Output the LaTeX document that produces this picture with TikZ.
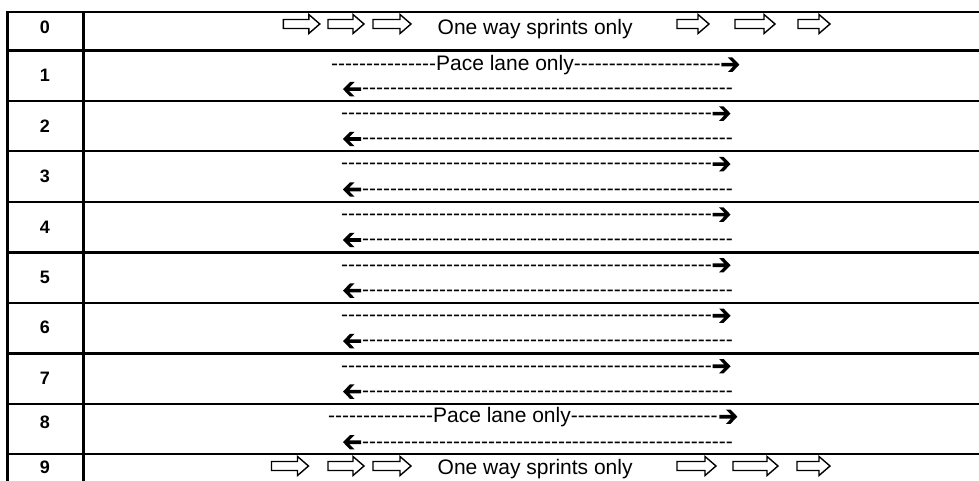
\documentclass[tikz,border=0pt]{standalone}
\usepackage{fontspec}
\setmainfont{Liberation Sans}
\newcommand\hyph[1]{\foreach \hidx in {1,...,#1}{-\kern0pt}}
\tikzset{
  grid/.style={line width=2.4pt, black},
  num/.style={font=\fontsize{18}{20}\selectfont\bfseries, inner sep=0pt, anchor=center},
  lbl/.style={font=\fontsize{21}{24}\selectfont, inner sep=0pt, anchor=base west},
  pics/harrow/.style={code={\draw[line width=1.4pt, fill=white, line join=miter]
    (0,-4.5) -- (#1-11,-4.5) -- (#1-11,-9.5) -- (#1,0) -- (#1-11,9.5) -- (#1-11,4.5) -- (0,4.5) -- cycle;}},
  pics/rarr/.style={code={\fill[black]
    (0,-1.8) -- (11.75,-1.8) -- (6.5,-7.2) -- (11,-7.2) -- (18,0) -- (11,7.2) -- (6.5,7.2) -- (11.75,1.8) -- (0,1.8) -- cycle;}},
  pics/larr/.style={code={\fill[black]
    (18,-1.8) -- (6.25,-1.8) -- (11.5,-7.2) -- (7,-7.2) -- (0,0) -- (7,7.2) -- (11.5,7.2) -- (6.25,1.8) -- (18,1.8) -- cycle;}}
}
\begin{document}
\begin{tikzpicture}[x=1pt,y=-1pt]
\useasboundingbox (0,0) rectangle (979,481);
% table lines
\draw[grid] (7.3,490) -- (7.3,12) -- (990,12);
\draw[grid] (83.3,12) -- (83.3,490);
\foreach \yy in {50.6,100.8,151.3,201.8,252.4,302.9,353.4,403.9,454}
  \draw[grid] (7.3,\yy) -- (990,\yy);
% row numbers
\node[num] (n0) at (45,27) {0};
\node[num] (n1) at (45,75) {1};
\node[num] (n2) at (45,126) {2};
\node[num] (n3) at (45,176.6) {3};
\node[num] (n4) at (45,227) {4};
\node[num] (n5) at (45,277.4) {5};
\node[num] (n6) at (45,327.8) {6};
\node[num] (n7) at (45,378) {7};
\node[num] (n8) at (45,422) {8};
\node[num] (n9) at (45,467.5) {9};
% row 0
\pic at (283.3,24) {harrow=36.5};
\pic at (328,24) {harrow=36};
\pic at (373,24) {harrow=38};
\node[lbl] (t0) at (437.5,35) {One way sprints only};
\pic at (677,24) {harrow=32};
\pic at (735,24) {harrow=40};
\pic at (798,24) {harrow=32};
% row 1
\node[lbl] (r1a) at (331,70.5) {\hyph{15}Pace lane only\hyph{21}};
\pic at ([xshift=0.5pt,yshift=5.8pt]r1a.base east) {rarr};
\node[lbl] (r1b) at (362,95) {\hyph{53}};
\pic at ([xshift=-19pt,yshift=5.8pt]r1b.base west) {larr};
% rows 2-7
\foreach \rr/\tt in {2/100.8,3/151.3,4/201.8,5/252.4,6/302.9,7/353.4}{
  \node[lbl] (r\rr a) at (341,\tt+18.6) {\hyph{53}};
  \pic at ([xshift=0.5pt,yshift=5.8pt]r\rr a.base east) {rarr};
  \node[lbl] (r\rr b) at (362,\tt+44) {\hyph{53}};
  \pic at ([xshift=-19pt,yshift=5.8pt]r\rr b.base west) {larr};
}
% row 8
\node[lbl] (r8a) at (328,422.5) {\hyph{15}Pace lane only\hyph{21}};
\pic at ([xshift=1.5pt,yshift=5.8pt]r8a.base east) {rarr};
\node[lbl] (r8b) at (362,448) {\hyph{53}};
\pic at ([xshift=-19pt,yshift=5.8pt]r8b.base west) {larr};
% row 9
\pic at (271.5,466) {harrow=37};
\pic at (328,466) {harrow=36};
\pic at (373,466) {harrow=38};
\node[lbl] (t9) at (437.5,474) {One way sprints only};
\pic at (677,466) {harrow=39};
\pic at (733,466) {harrow=45};
\pic at (797,466) {harrow=33};
\end{tikzpicture}
\end{document}
